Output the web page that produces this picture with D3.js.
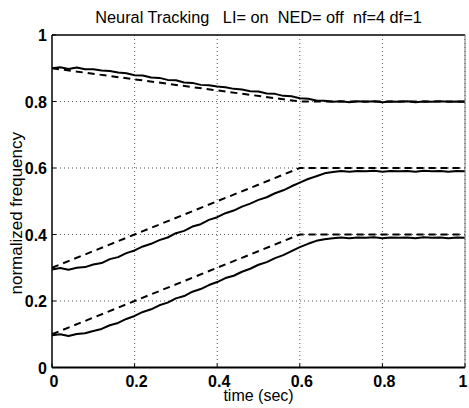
<!DOCTYPE html>
<html><head><meta charset="utf-8">
<script src="https://cdn.jsdelivr.net/npm/d3@7"></script>
<style>
html,body{margin:0;padding:0;background:#fff;}
text{font-family:"Liberation Sans",Arial,Helvetica,sans-serif;fill:#000;}
</style></head>
<body><svg id="chart" width="469" height="408"></svg>
<script>
const title = "Neural Tracking   LI= on  NED= off  nf=4 df=1";
const xLabel = "time (sec)";
const yLabel = "normalized frequency";
const xTicks = [0, 0.2, 0.4, 0.6, 0.8, 1];
const yTicks = [0, 0.2, 0.4, 0.6, 0.8, 1];
const xTickLabels = ["0", "0.2", "0.4", "0.6", "0.8", "1"];
const yTickLabels = ["0", "0.2", "0.4", "0.6", "0.8", "1"];

const time = [0,0.02,0.04,0.06,0.08,0.10,0.12,0.14,0.16,0.18,0.20,0.22,0.24,0.26,0.28,0.30,0.32,0.34,0.36,0.38,0.40,0.42,0.44,0.46,0.48,0.50,0.52,0.54,0.56,0.58,0.60,0.62,0.64,0.66,0.68,0.70,0.72,0.74,0.76,0.78,0.80,0.82,0.84,0.86,0.88,0.90,0.92,0.94,0.96,0.98,1.00];
const trackTop = [0.900,0.903,0.898,0.902,0.897,0.897,0.893,0.892,0.887,0.885,0.879,0.878,0.872,0.871,0.865,0.864,0.857,0.856,0.850,0.849,0.845,0.843,0.838,0.836,0.831,0.830,0.824,0.823,0.817,0.816,0.810,0.808,0.803,0.802,0.799,0.801,0.798,0.801,0.799,0.801,0.798,0.800,0.799,0.801,0.798,0.800,0.799,0.801,0.799,0.800,0.799];
const trackMid = [0.295,0.299,0.294,0.300,0.302,0.310,0.314,0.326,0.332,0.344,0.352,0.364,0.372,0.383,0.391,0.404,0.411,0.424,0.431,0.444,0.452,0.464,0.472,0.484,0.493,0.504,0.512,0.524,0.533,0.545,0.556,0.567,0.575,0.584,0.588,0.591,0.589,0.591,0.590,0.592,0.589,0.591,0.590,0.591,0.589,0.592,0.590,0.591,0.589,0.591,0.590];
const trackBot = [0.097,0.100,0.095,0.101,0.103,0.110,0.116,0.127,0.134,0.146,0.155,0.167,0.175,0.187,0.195,0.208,0.215,0.228,0.236,0.248,0.257,0.269,0.276,0.288,0.297,0.309,0.317,0.329,0.338,0.350,0.362,0.372,0.381,0.386,0.389,0.391,0.389,0.391,0.390,0.392,0.389,0.391,0.390,0.391,0.389,0.392,0.390,0.391,0.389,0.391,0.390];

const refTime = [0, 0.6, 1];
const refTop = [0.9, 0.8, 0.8];
const refMid = [0.3, 0.6, 0.6];
const refBot = [0.1, 0.4, 0.4];

const svg = d3.select("#chart");
const L = 52, R = 465, T = 35, B = 367.5;
const x = d3.scaleLinear().domain([0, 1]).range([L, R]);
const y = d3.scaleLinear().domain([0, 1]).range([B, T]);

// grid
const g = svg.append("g");
g.selectAll(".vg").data(xTicks.slice(1)).join("line")
  .attr("x1", d => x(d)).attr("x2", d => x(d)).attr("y1", T).attr("y2", B)
  .attr("stroke", "#555").attr("stroke-width", 1).attr("stroke-dasharray", "1,3");
g.selectAll(".hg").data(yTicks.slice(1, -1)).join("line")
  .attr("x1", L).attr("x2", R).attr("y1", d => y(d)).attr("y2", d => y(d))
  .attr("stroke", "#555").attr("stroke-width", 1).attr("stroke-dasharray", "1,3");

// reference dashed lines
const refLine = d3.line().x((d, i) => x(refTime[i])).y(d => y(d));
[refTop, refMid, refBot].forEach(s => {
  svg.append("path").attr("d", refLine(s)).attr("fill", "none")
    .attr("stroke", "#000").attr("stroke-width", 2).attr("stroke-dasharray", "7,5");
});

// tracking solid lines
const trLine = d3.line().x((d, i) => x(time[i])).y(d => y(d));
[trackTop, trackMid, trackBot].forEach(s => {
  svg.append("path").attr("d", trLine(s)).attr("fill", "none")
    .attr("stroke", "#000").attr("stroke-width", 2).attr("stroke-linejoin", "round");
});

// box
svg.append("line").attr("x1", L).attr("x2", L).attr("y1", T).attr("y2", B).attr("stroke", "#000").attr("stroke-width", 1.5);
svg.append("line").attr("x1", L).attr("x2", R).attr("y1", B).attr("y2", B).attr("stroke", "#000").attr("stroke-width", 2);
svg.append("line").attr("x1", L).attr("x2", R).attr("y1", T).attr("y2", T).attr("stroke", "#000").attr("stroke-width", 1.5);
svg.append("line").attr("x1", R).attr("x2", R).attr("y1", T).attr("y2", B).attr("stroke", "#777").attr("stroke-width", 1);

// ticks (inward)
svg.selectAll(".xt").data(xTicks).join("line")
  .attr("x1", d => x(d)).attr("x2", d => x(d)).attr("y1", B).attr("y2", B - 4)
  .attr("stroke", "#000").attr("stroke-width", 1);
svg.selectAll(".yt").data(yTicks).join("line")
  .attr("x1", L).attr("x2", L + 4).attr("y1", d => y(d)).attr("y2", d => y(d))
  .attr("stroke", "#000").attr("stroke-width", 1);

// tick labels
svg.selectAll(".xl").data(xTicks).join("text")
  .attr("x", d => Math.min(x(d) + 2, 463)).attr("y", 387)
  .attr("text-anchor", "middle").attr("font-size", 16).attr("font-weight", "bold")
  .text((d, i) => xTickLabels[i]);
svg.selectAll(".yl").data(yTicks).join("text")
  .attr("x", 47).attr("y", d => y(d) + 6)
  .attr("text-anchor", "end").attr("font-size", 16).attr("font-weight", "bold")
  .text((d, i) => yTickLabels[i]);

// title and axis labels
svg.append("text").attr("x", (L + R) / 2).attr("y", 23)
  .attr("text-anchor", "middle").attr("font-size", 16.3)
  .style("white-space", "pre").text(title);
svg.append("text").attr("x", (L + R) / 2).attr("y", 401)
  .attr("text-anchor", "middle").attr("font-size", 16).text(xLabel);
svg.append("text").attr("transform", `translate(22,${(T + B) / 2 + 12}) rotate(-90)`)
  .attr("text-anchor", "middle").attr("font-size", 17).text(yLabel);
</script></body></html>
